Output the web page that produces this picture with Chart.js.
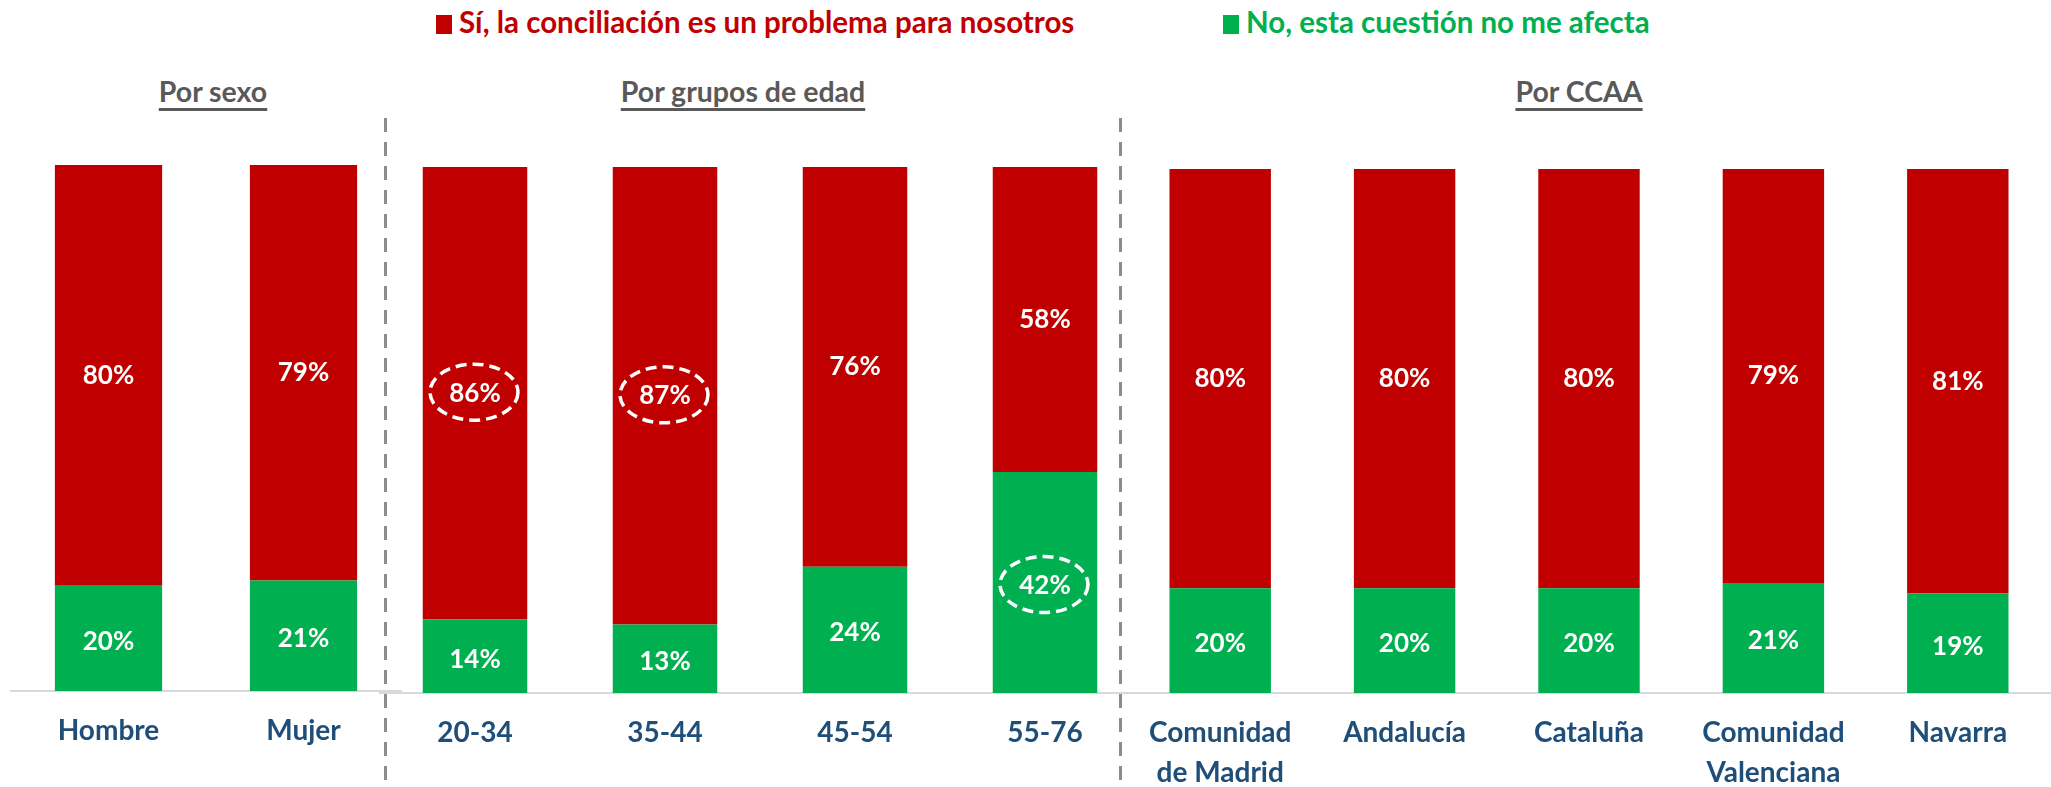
<!DOCTYPE html>
<html lang="es">
<head>
<meta charset="utf-8">
<script src="https://cdn.jsdelivr.net/npm/chart.js@4.4.0/dist/chart.umd.min.js"></script>
<style>
  body { margin: 0; background: #fff; font-family: Lato, sans-serif; }
  #wrap { position: relative; width: 2051px; height: 787px; overflow: hidden; }
  #wrap canvas { position: absolute; top: 0; }
  .leg { position: absolute; top: 3px; font-weight: bold; font-size: 29.5px; line-height: 38px; white-space: nowrap; }
  .leg i { display: inline-block; width: 16px; height: 19px; margin-right: 7px; vertical-align: -1px; }
  .sec { position: absolute; top: 72px; width: 400px; margin-left: -200px; text-align: center;
         font-weight: bold; font-size: 28.5px; color: #595959; line-height: 38px; }
  .sec span { text-decoration: underline; text-decoration-thickness: 3px; text-underline-offset: 6px; }
  .sep { position: absolute; top: 118px; width: 3px; height: 669px; z-index: 5;
         background: repeating-linear-gradient(to bottom, #8c8c8c 0 14px, transparent 14px 24px); }
</style>
</head>
<body>
<div id="wrap">
  <div class="leg" style="left:436px;color:#C00000"><i style="background:#C00000"></i>Sí, la conciliación es un problema para nosotros</div>
  <div class="leg" style="left:1223px;color:#00B050"><i style="background:#00B050"></i>No, esta cuestión no me afecta</div>
  <div class="sec" style="left:213px"><span>Por sexo</span></div>
  <div class="sec" style="left:743px"><span>Por grupos de edad</span></div>
  <div class="sec" style="left:1579px"><span>Por CCAA</span></div>
  <div class="sep" style="left:384px"></div>
  <div class="sep" style="left:1119px"></div>
  <canvas id="c1" width="410" height="787" style="left:0px"></canvas>
  <canvas id="c2" width="780" height="787" style="left:370px"></canvas>
  <canvas id="c3" width="933" height="787" style="left:1118px"></canvas>
</div>
<script>
"use strict";
const RED = "#C00000";
const GREEN = "#00B050";

// Por sexo
const sexoLabels = ["Hombre", "Mujer"];
const sexoSi = [80, 79];
const sexoNo = [20, 21];

// Por grupos de edad
const edadLabels = ["20-34", "35-44", "45-54", "55-76"];
const edadSi = [86, 87, 76, 58];
const edadNo = [14, 13, 24, 42];
const edadSiMarcado = [true, true, false, false];
const edadNoMarcado = [false, false, false, true];

// Por CCAA
const ccaaLabels = [["Comunidad", "de Madrid"], "Andalucía", "Cataluña", ["Comunidad", "Valenciana"], "Navarra"];
const ccaaSi = [80, 80, 80, 79, 81];
const ccaaNo = [20, 20, 20, 21, 19];

// etiquetas de valor + elipses discontinuas
const valueLabels = {
  id: "valueLabels",
  afterDatasetsDraw(chart) {
    const ctx = chart.ctx;
    ctx.save();
    ctx.font = "bold 26px Lato";
    ctx.fillStyle = "#fff";
    ctx.strokeStyle = "#fff";
    ctx.textAlign = "center";
    ctx.textBaseline = "middle";
    chart.data.datasets.forEach((ds, di) => {
      const meta = chart.getDatasetMeta(di);
      meta.data.forEach((bar, i) => {
        const y = (bar.y + bar.base) / 2 + (di === 0 ? 3 : 0);
        ctx.fillText(ds.data[i] + "%", bar.x, y);
        if (ds.marcado && ds.marcado[i]) {
          ctx.beginPath();
          ctx.lineWidth = 3.5;
          ctx.setLineDash([11, 6]);
          ctx.ellipse(bar.x - 1, y - 1, 44, 28, 0, 0, Math.PI * 2);
          ctx.stroke();
          ctx.setLineDash([]);
        }
      });
    });
    ctx.restore();
  },
};

function makeChart(id, labels, si, no, pad, axisH, siMarcado, noMarcado) {
  const ctx = document.getElementById(id).getContext("2d");
  return new Chart(ctx, {
    type: "bar",
    data: {
      labels: labels,
      datasets: [
        { label: "No, esta cuestión no me afecta", data: no, backgroundColor: GREEN, marcado: noMarcado },
        { label: "Sí, la conciliación es un problema para nosotros", data: si, backgroundColor: RED, marcado: siMarcado },
      ],
    },
    options: {
      responsive: false,
      animation: false,
      events: [],
      layout: { padding: pad },
      categoryPercentage: 1,
      barPercentage: 0.55,
      plugins: { legend: { display: false }, tooltip: { enabled: false } },
      scales: {
        x: {
          stacked: true,
          grid: { display: false, drawTicks: false },
          border: { display: true, color: "#D9D9D9", width: 2 },
          ticks: {
            color: "#1F4E79",
            font: { family: "Lato", weight: "bold", size: 28, lineHeight: 1.43 },
            padding: 20,
            maxRotation: 0,
            autoSkip: false,
          },
          afterFit: (s) => { s.height = axisH; },
        },
        y: { stacked: true, display: false, min: 0, max: 100 },
      },
    },
    plugins: [valueLabels],
  });
}

makeChart("c1", sexoLabels, sexoSi, sexoNo, { left: 11, right: 9, top: 165, bottom: 0 }, 96);
makeChart("c2", edadLabels, edadSi, edadNo, { left: 10, right: 10, top: 167, bottom: 0 }, 94, edadSiMarcado, edadNoMarcado);
makeChart("c3", ccaaLabels, ccaaSi, ccaaNo, { left: 10, right: 1, top: 169, bottom: 0 }, 94);
</script>
</body>
</html>
